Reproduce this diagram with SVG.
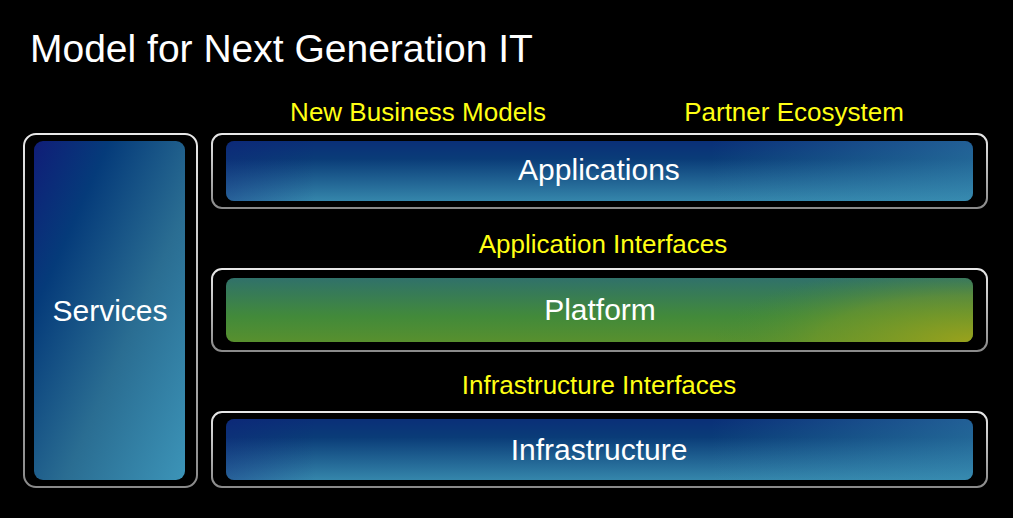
<svg xmlns="http://www.w3.org/2000/svg" width="1013" height="518" viewBox="0 0 1013 518">
<defs>
<linearGradient id="blue" x1="0" y1="0" x2="1" y2="1">
<stop offset="0" stop-color="#101d78"/>
<stop offset="0.25" stop-color="#053b7a"/>
<stop offset="0.6" stop-color="#2a6d92"/>
<stop offset="1" stop-color="#3c94b8"/>
</linearGradient>
<linearGradient id="blueH" x1="0" y1="0" x2="0" y2="1">
<stop offset="0" stop-color="#0a2f78"/>
<stop offset="0.3" stop-color="#0a3c78"/>
<stop offset="1" stop-color="#3586ab"/>
</linearGradient>
<linearGradient id="blueR" x1="0" y1="0" x2="1" y2="0">
<stop offset="0" stop-color="#101d78" stop-opacity="0.35"/>
<stop offset="0.12" stop-color="#101d78" stop-opacity="0"/>
<stop offset="0.65" stop-color="#3a90b5" stop-opacity="0"/>
<stop offset="1" stop-color="#3a90b5" stop-opacity="0.5"/>
</linearGradient>
<linearGradient id="green" x1="0" y1="0" x2="0" y2="1">
<stop offset="0" stop-color="#30716a"/>
<stop offset="0.6" stop-color="#428a3a"/>
<stop offset="1" stop-color="#58902e"/>
</linearGradient>
<radialGradient id="greenY" gradientUnits="userSpaceOnUse" cx="973" cy="342" r="260" gradientTransform="translate(973 342) scale(1 0.3) translate(-973 -342)">
<stop offset="0" stop-color="#9aa21c" stop-opacity="1"/>
<stop offset="0.6" stop-color="#7c9a26" stop-opacity="0.5"/>
<stop offset="1" stop-color="#428a3a" stop-opacity="0"/>
</radialGradient>
<linearGradient id="frame" x1="0" y1="0" x2="0" y2="1">
<stop offset="0" stop-color="#e8e8e8"/>
<stop offset="1" stop-color="#8a8a8a"/>
</linearGradient>
<style>
.frame{fill:#000;stroke:url(#frame);stroke-width:2}
.lbl{font-family:"Liberation Sans",Arial,sans-serif;font-size:30px;fill:#fff;text-anchor:middle}
.ylw{font-family:"Liberation Sans",Arial,sans-serif;font-size:26px;fill:#ffff14;text-anchor:middle}
</style>
</defs>
<rect width="1013" height="518" fill="#000"/>
<text x="30" y="62" font-family="Liberation Sans, Arial, sans-serif" font-size="39" fill="#fff">Model for Next Generation IT</text>
<g id="services">
<rect class="frame" x="24" y="134" width="173" height="353" rx="12"/>
<rect x="34" y="141" width="151" height="339" rx="9" fill="url(#blue)"/>
<text class="lbl" x="110" y="321">Services</text>
</g>
<g id="applications">
<rect class="frame" x="212" y="134" width="775" height="74" rx="10"/>
<rect x="226" y="141" width="747" height="60" rx="8" fill="url(#blueH)"/>
<rect x="226" y="141" width="747" height="60" rx="8" fill="url(#blueR)"/>
<text class="lbl" x="599" y="180">Applications</text>
</g>
<g id="platform">
<rect class="frame" x="212" y="269" width="775" height="82" rx="10"/>
<rect x="226" y="278" width="747" height="64" rx="8" fill="url(#green)"/>
<rect x="226" y="278" width="747" height="64" rx="8" fill="url(#greenY)"/>
<text class="lbl" x="600" y="320">Platform</text>
</g>
<g id="infrastructure">
<rect class="frame" x="212" y="412" width="775" height="75" rx="10"/>
<rect x="226" y="419" width="747" height="61" rx="8" fill="url(#blueH)"/>
<rect x="226" y="419" width="747" height="61" rx="8" fill="url(#blueR)"/>
<text class="lbl" x="599" y="460">Infrastructure</text>
</g>
<g id="labels">
<text class="ylw" x="418" y="121">New Business Models</text>
<text class="ylw" x="794" y="121">Partner Ecosystem</text>
<text class="ylw" x="603" y="253">Application Interfaces</text>
<text class="ylw" x="599" y="394">Infrastructure Interfaces</text>
</g>
<g id="connectors"></g>
</svg>
